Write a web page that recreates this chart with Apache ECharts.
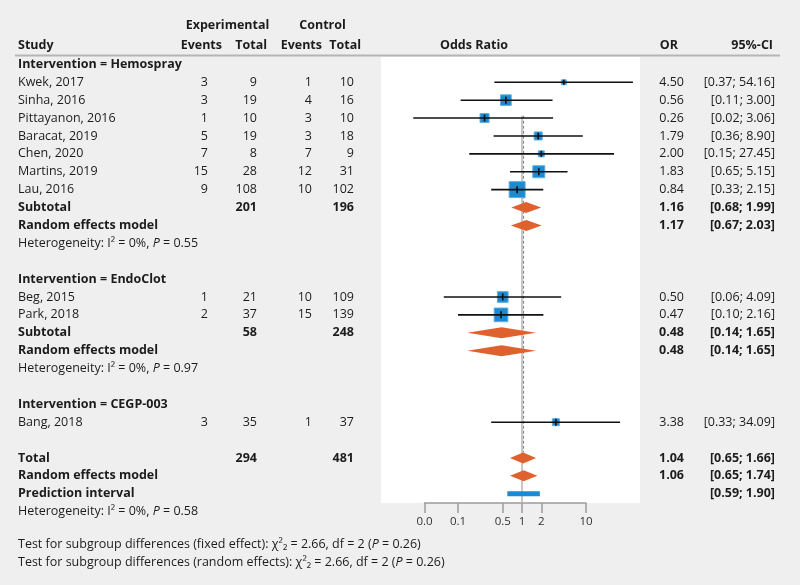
<!DOCTYPE html>
<html><head><meta charset="utf-8">
<script src="https://cdn.jsdelivr.net/npm/echarts@6/dist/echarts.min.js"></script>
<style>html,body{margin:0;padding:0;background:#efefef}#main{width:800px;height:585px}</style>
</head><body><div id="main"></div>
<script>
// ---------------- DATA ----------------
const tickValues = [0.03, 0.1, 0.5, 1, 2, 10];
const tickLabels = ['0.0', '0.1', '0.5', '1', '2', '10'];

const groupNames = ['Hemospray', 'EndoClot', 'CEGP-003'];
const studyNames = ['Kwek, 2017', 'Sinha, 2016', 'Pittayanon, 2016', 'Baracat, 2019', 'Chen, 2020', 'Martins, 2019', 'Lau, 2016', 'Beg, 2015', 'Park, 2018', 'Bang, 2018'];
const studyGroup = [0, 0, 0, 0, 0, 0, 0, 1, 1, 2];
const expEvents = [3, 3, 1, 5, 7, 15, 9, 1, 2, 3];
const expTotal = [9, 19, 10, 19, 8, 28, 108, 21, 37, 35];
const ctrlEvents = [1, 4, 3, 3, 7, 12, 10, 10, 15, 1];
const ctrlTotal = [10, 16, 10, 18, 9, 31, 102, 109, 139, 37];
const studyOR = [4.50, 0.56, 0.26, 1.79, 2.00, 1.83, 0.84, 0.50, 0.47, 3.38];
const studyLower = [0.37, 0.11, 0.02, 0.36, 0.15, 0.65, 0.33, 0.06, 0.10, 0.33];
const studyUpper = [54.16, 3.00, 3.06, 8.90, 27.45, 5.15, 2.15, 4.09, 2.16, 34.09];
const studyWeight = [2.3, 10.7, 7.6, 6.0, 3.4, 13.4, 23.9, 10.7, 17.5, 4.6];

const subExpTotal = [201, 58];
const subCtrlTotal = [196, 248];
const subFixedOR = [1.16, 0.48];
const subFixedLower = [0.68, 0.14];
const subFixedUpper = [1.99, 1.65];
const subRandomOR = [1.17, 0.48];
const subRandomLower = [0.67, 0.14];
const subRandomUpper = [2.03, 1.65];
const subHetI2 = ['0%', '0%'];
const subHetP = ['0.55', '0.97'];

const totalExp = 294;
const totalCtrl = 481;
const overallFixed = [1.04, 0.65, 1.66];
const overallRandom = [1.06, 0.65, 1.74];
const predictionInterval = [0.59, 1.90];
const overallHetI2 = '0%';
const overallHetP = '0.58';
const subgroupChi2 = '2.66';
const subgroupDf = 2;
const subgroupP = '0.26';

// ---------------- LAYOUT ----------------
const FONT = '"Open Sans", sans-serif';
const FS = 12.5;
const TXT = '#1c1c1c';
const ROW0_Y = 64.4, ROW_H = 17.89;
const GRID_TOP = 57, GRID_BOTTOM = 503;
const X_ONE = 522, PX_DEC = 64;
const xLeft = X_ONE + PX_DEC * Math.log10(tickValues[0]);
const xRight = X_ONE + PX_DEC * Math.log10(tickValues[tickValues.length - 1]);
const yMin = (GRID_TOP - ROW0_Y) / ROW_H;
const yMax = (GRID_BOTTOM - ROW0_Y) / ROW_H;
const COL = { study: 18, eE: 208, eT: 257, cE: 312, cT: 354, or: 684, ci: 775 };
const SQ_MAX = 16;
const DIA_H = 5.5;
const REF_TOP_ROW = 2.87;
const fmt = v => v.toFixed(2);
const ci = (l, u) => '[' + fmt(l) + '; ' + fmt(u) + ']';
const lg = Math.log10;

// ---------------- TABLE ----------------
const rows = [];
rows.push({ r: -2.2, kind: 'head1' });
rows.push({ r: -1.08, kind: 'head2' });
let r = 0;
groupNames.forEach((g, gi) => {
  rows.push({ r: r++, kind: 'group', label: 'Intervention = ' + g });
  const idx = studyGroup.map((s, i) => s === gi ? i : -1).filter(i => i >= 0);
  idx.forEach(i => rows.push({ r: r++, kind: 'study', i }));
  if (idx.length > 1) {
    rows.push({ r: r++, kind: 'subFixed', g: gi });
    rows.push({ r: r++, kind: 'subRandom', g: gi });
    rows.push({ r: r++, kind: 'subHet', g: gi });
  }
  r++;
});
const totalRow = r;
rows.push({ r: r++, kind: 'total' });
rows.push({ r: r++, kind: 'totalRandom' });
rows.push({ r: r++, kind: 'pi' });
rows.push({ r: r++, kind: 'het' });
rows.push({ r: r + 0.86, kind: 'test', which: 'fixed effect' });
rows.push({ r: r + 1.86, kind: 'test', which: 'random effects' });

const italic = { i: { fontStyle: 'italic', fontSize: FS, fontFamily: FONT, fill: TXT } };
function T(x, y, s, align, bold, rich) {
  const st = { text: s, align: align || 'left', verticalAlign: 'middle', fill: TXT, fontSize: FS, fontFamily: FONT, fontWeight: bold ? 'bold' : 'normal' };
  if (rich) st.rich = rich;
  return { type: 'text', x: x, y: y, style: st };
}

function renderText(params, api) {
  const row = rows[params.dataIndex];
  const y = api.coord([0, row.r])[1];
  const c = [];
  switch (row.kind) {
    case 'head1':
      c.push(T(227.5, y, 'Experimental', 'center', true));
      c.push(T(322.5, y, 'Control', 'center', true));
      break;
    case 'head2':
      c.push(T(COL.study, y, 'Study', 'left', true));
      c.push(T(222, y, 'Events', 'right', true));
      c.push(T(267, y, 'Total', 'right', true));
      c.push(T(322, y, 'Events', 'right', true));
      c.push(T(361, y, 'Total', 'right', true));
      c.push(T(474, y, 'Odds Ratio', 'center', true));
      c.push(T(678, y, 'OR', 'right', true));
      c.push(T(773, y, '95%-CI', 'right', true));
      break;
    case 'group':
      c.push(T(COL.study, y, row.label, 'left', true));
      break;
    case 'study': {
      const i = row.i;
      c.push(T(COL.study, y, studyNames[i]));
      c.push(T(COL.eE, y, String(expEvents[i]), 'right'));
      c.push(T(COL.eT, y, String(expTotal[i]), 'right'));
      c.push(T(COL.cE, y, String(ctrlEvents[i]), 'right'));
      c.push(T(COL.cT, y, String(ctrlTotal[i]), 'right'));
      c.push(T(COL.or, y, fmt(studyOR[i]), 'right'));
      c.push(T(COL.ci, y, ci(studyLower[i], studyUpper[i]), 'right'));
      break;
    }
    case 'subFixed':
      c.push(T(COL.study, y, 'Subtotal', 'left', true));
      c.push(T(COL.eT, y, String(subExpTotal[row.g]), 'right', true));
      c.push(T(COL.cT, y, String(subCtrlTotal[row.g]), 'right', true));
      c.push(T(COL.or, y, fmt(subFixedOR[row.g]), 'right', true));
      c.push(T(COL.ci, y, ci(subFixedLower[row.g], subFixedUpper[row.g]), 'right', true));
      break;
    case 'subRandom':
      c.push(T(COL.study, y, 'Random effects model', 'left', true));
      c.push(T(COL.or, y, fmt(subRandomOR[row.g]), 'right', true));
      c.push(T(COL.ci, y, ci(subRandomLower[row.g], subRandomUpper[row.g]), 'right', true));
      break;
    case 'subHet':
      c.push(T(COL.study, y, 'Heterogeneity: I² = ' + subHetI2[row.g] + ', {i|P} = ' + subHetP[row.g], 'left', false, italic));
      break;
    case 'total':
      c.push(T(COL.study, y, 'Total', 'left', true));
      c.push(T(COL.eT, y, String(totalExp), 'right', true));
      c.push(T(COL.cT, y, String(totalCtrl), 'right', true));
      c.push(T(COL.or, y, fmt(overallFixed[0]), 'right', true));
      c.push(T(COL.ci, y, ci(overallFixed[1], overallFixed[2]), 'right', true));
      break;
    case 'totalRandom':
      c.push(T(COL.study, y, 'Random effects model', 'left', true));
      c.push(T(COL.or, y, fmt(overallRandom[0]), 'right', true));
      c.push(T(COL.ci, y, ci(overallRandom[1], overallRandom[2]), 'right', true));
      break;
    case 'pi':
      c.push(T(COL.study, y, 'Prediction interval', 'left', true));
      c.push(T(COL.ci, y, ci(predictionInterval[0], predictionInterval[1]), 'right', true));
      break;
    case 'het':
      c.push(T(COL.study, y, 'Heterogeneity: I² = ' + overallHetI2 + ', {i|P} = ' + overallHetP, 'left', false, italic));
      break;
    case 'test':
      c.push(T(COL.study, y, 'Test for subgroup differences (' + row.which + '): χ²₂ = ' + subgroupChi2 + ', df = ' + subgroupDf + ' ({i|P} = ' + subgroupP + ')', 'left', false, italic));
      break;
  }
  return { type: 'group', children: c };
}

// study marks
const studyRows = rows.filter(x => x.kind === 'study');
const wMax = Math.max.apply(null, studyWeight);
function renderStudy(params, api) {
  const row = studyRows[params.dataIndex];
  const i = row.i;
  const p = api.coord([lg(studyOR[i]), row.r]);
  const a = api.coord([lg(studyLower[i]), row.r]);
  const b = api.coord([lg(studyUpper[i]), row.r]);
  const s = SQ_MAX * Math.sqrt(studyWeight[i] / wMax);
  const th = Math.min(s, 7);
  return { type: 'group', children: [
    { type: 'rect', shape: { x: p[0] - s / 2, y: p[1] - s / 2, width: s, height: s }, style: { fill: '#1d89cf', stroke: '#5fb0e0', lineWidth: 1 } },
    { type: 'line', shape: { x1: a[0], y1: p[1], x2: b[0], y2: p[1] }, style: { stroke: '#111', lineWidth: 1.6 } },
    { type: 'line', shape: { x1: p[0], y1: p[1] - th / 2, x2: p[0], y2: p[1] + th / 2 }, style: { stroke: '#111', lineWidth: 1.6 } }
  ] };
}

// diamonds
const diamonds = [];
rows.forEach(row => {
  if (row.kind === 'subFixed') diamonds.push([subFixedLower[row.g], subFixedOR[row.g], subFixedUpper[row.g], row.r]);
  if (row.kind === 'subRandom') diamonds.push([subRandomLower[row.g], subRandomOR[row.g], subRandomUpper[row.g], row.r]);
  if (row.kind === 'total') diamonds.push([overallFixed[1], overallFixed[0], overallFixed[2], row.r]);
  if (row.kind === 'totalRandom') diamonds.push([overallRandom[1], overallRandom[0], overallRandom[2], row.r]);
});
function renderDiamond(params, api) {
  const d = diamonds[params.dataIndex];
  const a = api.coord([lg(d[0]), d[3]]);
  const m = api.coord([lg(d[1]), d[3]]);
  const b = api.coord([lg(d[2]), d[3]]);
  return { type: 'polygon', shape: { points: [[a[0], a[1]], [m[0], m[1] - DIA_H], [b[0], b[1]], [m[0], m[1] + DIA_H]] }, style: { fill: '#df612e' } };
}

const piRow = rows.find(x => x.kind === 'pi').r;
function renderPI(params, api) {
  const a = api.coord([lg(predictionInterval[0]), piRow]);
  const b = api.coord([lg(predictionInterval[1]), piRow]);
  return { type: 'rect', shape: { x: a[0], y: a[1] - 2.5, width: b[0] - a[0], height: 5 }, style: { fill: '#1d89cf' } };
}

function renderRef(params, api) {
  const t = api.coord([0, REF_TOP_ROW]);
  const bt = api.coord([0, yMax]);
  const f0 = api.coord([lg(overallFixed[0]), REF_TOP_ROW]);
  const f1 = api.coord([lg(overallFixed[0]), totalRow]);
  return { type: 'group', children: [
    { type: 'line', shape: { x1: t[0], y1: t[1], x2: bt[0], y2: bt[1] }, style: { stroke: '#b4b4b4', lineWidth: 1.5 } },
    { type: 'line', shape: { x1: f0[0] + 0.5, y1: f0[1], x2: f1[0] + 0.5, y2: f1[1] - DIA_H }, style: { stroke: '#808080', lineWidth: 1, lineDash: [3, 2] } }
  ] };
}

const base = { type: 'custom', xAxisIndex: 0, yAxisIndex: 0, clip: false, encode: { x: 0, y: 1 }, silent: true };

const option = {
  animation: false,
  backgroundColor: '#efefef',
  graphic: [
    { type: 'rect', shape: { x: 381, y: GRID_TOP, width: 259, height: GRID_BOTTOM - GRID_TOP }, style: { fill: '#ffffff' }, z: 0 },
    { type: 'line', shape: { x1: 15, y1: 55.5, x2: 780, y2: 55.5 }, style: { stroke: '#b5b5b5', lineWidth: 2 }, z: 0 }
  ],
  grid: { left: xLeft, right: 800 - xRight, top: GRID_TOP, bottom: 585 - GRID_BOTTOM },
  xAxis: {
    type: 'value', min: lg(tickValues[0]), max: lg(tickValues[tickValues.length - 1]),
    axisLine: { show: true, onZero: false, lineStyle: { color: '#9c9c9c', width: 1.5 } },
    axisTick: { show: true, length: 10, customValues: tickValues.map(lg), lineStyle: { color: '#9c9c9c', width: 1.5 } },
    axisLabel: { show: true, customValues: tickValues.map(lg), margin: 13, color: '#333', fontSize: 11.5, fontFamily: FONT,
      formatter: v => { let k = 0, best = 1e9; tickValues.forEach((t, j) => { const d = Math.abs(lg(t) - v); if (d < best) { best = d; k = j; } }); return tickLabels[k]; } },
    splitLine: { show: false }
  },
  yAxis: { type: 'value', inverse: true, min: yMin, max: yMax, show: false, splitLine: { show: false } },
  series: [
    Object.assign({}, base, { renderItem: renderRef, data: [[0, REF_TOP_ROW]], z: 1 }),
    Object.assign({}, base, { renderItem: renderStudy, data: studyRows.map(x => [lg(studyOR[x.i]), x.r]), z: 3 }),
    Object.assign({}, base, { renderItem: renderDiamond, data: diamonds.map(d => [lg(d[1]), d[3]]), z: 3 }),
    Object.assign({}, base, { renderItem: renderPI, data: [[lg(predictionInterval[0]), piRow]], z: 3 }),
    Object.assign({}, base, { renderItem: renderText, data: rows.map(x => [0, x.r]), z: 4 })
  ]
};
const chart = echarts.init(document.getElementById('main'));
chart.setOption(option);
</script></body></html>
